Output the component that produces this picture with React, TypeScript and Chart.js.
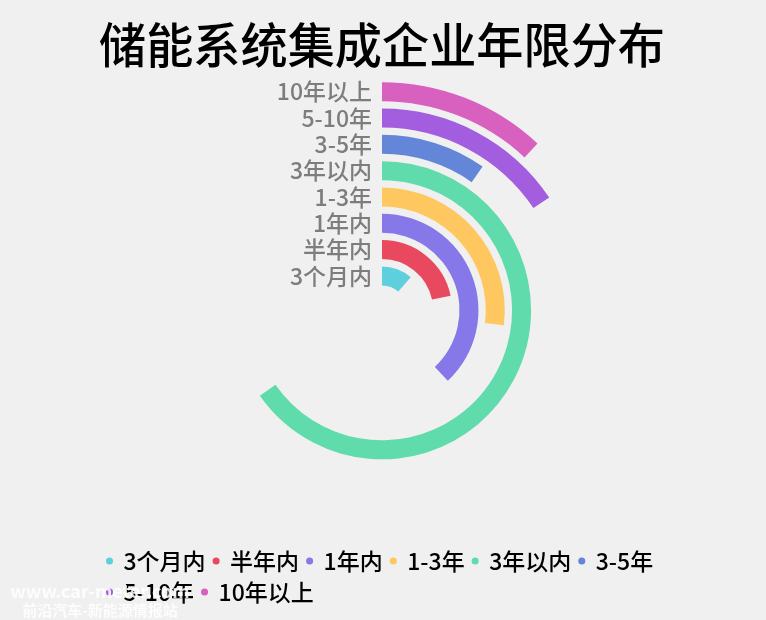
import React, { useEffect, useRef } from "react";
import { Chart, registerables } from "chart.js";

Chart.register(...registerables);

const TITLE = "储能系统集成企业年限分布";
const categories = ["3个月内", "半年内", "1年内", "1-3年", "3年以内", "3-5年", "5-10年", "10年以上"];
// arc length of each ring, on an angle axis whose full turn is ANGLE_MAX
const values = [41, 78, 137, 97, 235, 35, 56, 43];
const ANGLE_MAX = 360;
const colors = ["#5ed0dd", "#e8495f", "#8678e8", "#ffc75f", "#60dbac", "#6486d8", "#a35ddf", "#d861c0"];

const FONT = "'Noto Sans CJK SC', 'Noto Sans', sans-serif";
const RING_WEIGHT = 19;
const GAP_WEIGHT = 7.3;

const ringLabelPlugin = {
  id: "ringLabels",
  afterDatasetsDraw(chart: any) {
    const ctx = chart.ctx;
    ctx.save();
    ctx.font = `500 23px ${FONT}`;
    ctx.fillStyle = "#7d7d7d";
    ctx.textAlign = "right";
    ctx.textBaseline = "middle";
    chart.data.datasets.forEach((ds: any, i: number) => {
      if (ds.isGap) return;
      const arc = chart.getDatasetMeta(i).data[0];
      if (!arc) return;
      const p = arc.getProps(["x", "y", "innerRadius", "outerRadius"], true);
      ctx.fillText(ds.label, p.x - 10, p.y - (p.innerRadius + p.outerRadius) / 2);
    });
    ctx.restore();
  },
};

export default function App() {
  const ref = useRef<HTMLCanvasElement>(null);

  useEffect(() => {
    if (!ref.current) return;
    const datasets: any[] = [];
    for (let i = categories.length - 1; i >= 0; i--) {
      datasets.push({
        label: categories[i],
        data: [values[i], ANGLE_MAX - values[i]],
        backgroundColor: [colors[i], "rgba(0,0,0,0)"],
        borderWidth: 0,
        weight: RING_WEIGHT,
      });
      if (i > 0) {
        datasets.push({
          label: "",
          isGap: true,
          data: [1],
          backgroundColor: ["rgba(0,0,0,0)"],
          borderWidth: 0,
          weight: GAP_WEIGHT,
        });
      }
    }

    const chart = new Chart(ref.current, {
      type: "doughnut",
      data: { labels: ["value", "rest"], datasets },
      options: {
        animation: false,
        responsive: false,
        events: [],
        cutout: "10.9%",
        radius: 228,
        rotation: 0,
        circumference: 360,
        layout: { padding: { left: 99, right: 101, top: 0, bottom: 6.5 } },
        plugins: {
          title: {
            display: true,
            text: TITLE,
            color: "#000",
            font: { size: 48, family: FONT, weight: "500" },
            padding: { top: 16, bottom: 5.4 },
          },
          legend: {
            position: "bottom",
            align: "start",
            onClick: () => {},
            labels: {
              usePointStyle: true,
              boxWidth: 5,
              boxHeight: 5,
              padding: 8,
              color: "#000",
              font: { size: 23, family: FONT, weight: "500" },
              generateLabels: () =>
                categories.map((c, i) => ({
                  text: c,
                  fillStyle: colors[i],
                  strokeStyle: colors[i],
                  lineWidth: 0,
                  pointStyle: "circle",
                  hidden: false,
                  fontColor: "#000",
                })),
            },
          },
          tooltip: { enabled: false },
        },
      } as any,
      plugins: [ringLabelPlugin],
    });
    return () => chart.destroy();
  }, []);

  return (
    <div
      style={{
        position: "fixed",
        left: 0,
        top: 0,
        width: 766,
        height: 620,
        background: "#f0f0f0",
        overflow: "hidden",
      }}
    >
      <canvas ref={ref} width={766} height={620} style={{ display: "block" }} />
      <div
        style={{
          position: "absolute",
          left: 0,
          top: 580,
          width: 200,
          textAlign: "center",
          color: "rgba(255,255,255,0.85)",
          fontFamily: FONT,
          fontWeight: "bold",
        }}
      >
        <div style={{ fontSize: 18, lineHeight: "20px" }}>www.car-meter.com</div>
        <div style={{ fontSize: 15, lineHeight: "19px" }}>前沿汽车-新能源情报站</div>
      </div>
    </div>
  );
}
